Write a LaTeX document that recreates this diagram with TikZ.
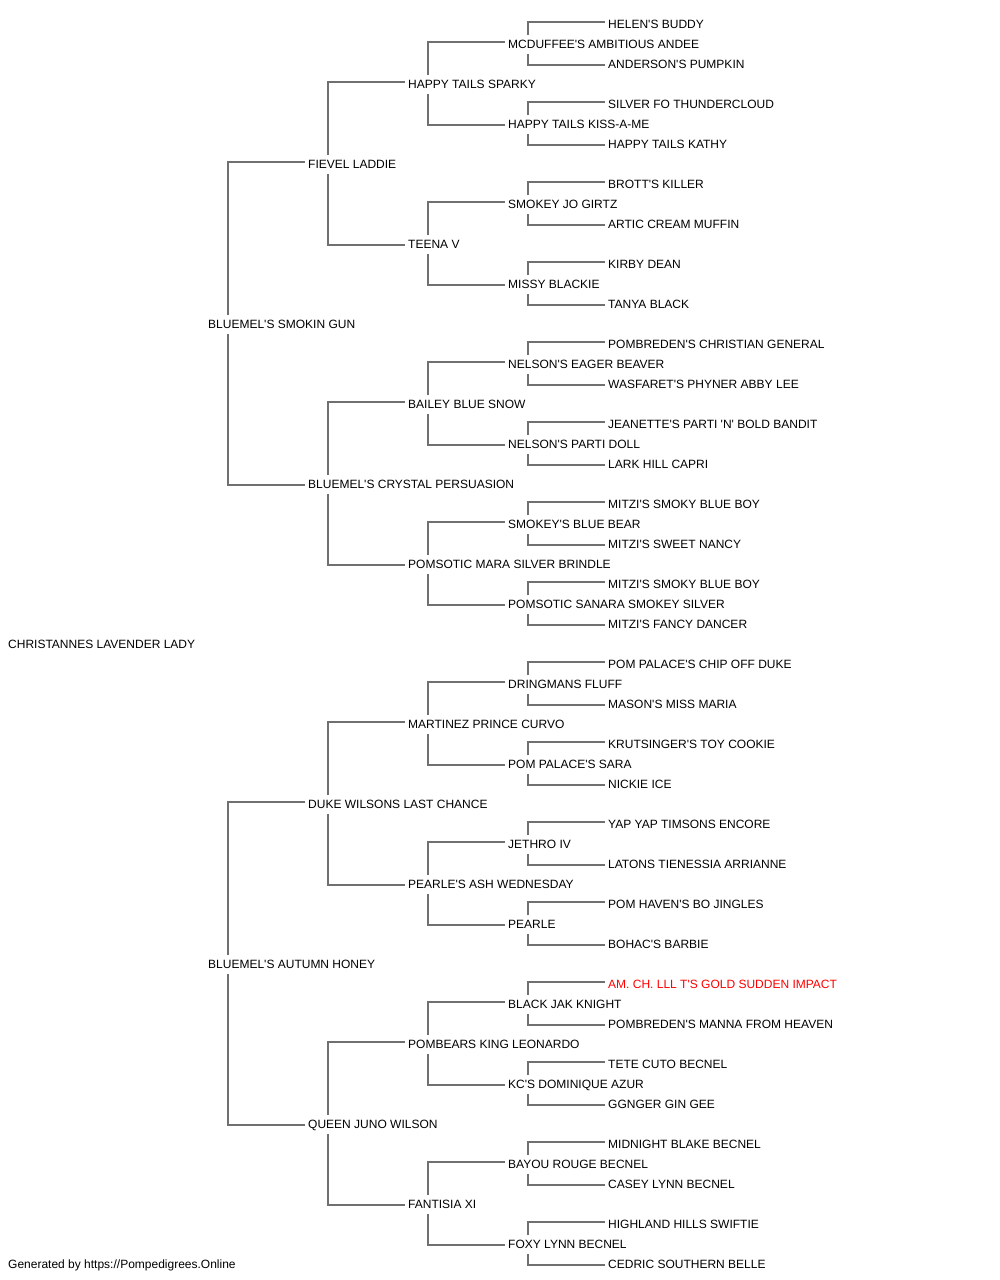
\documentclass[tikz,border=0pt]{standalone}
\usepackage{fontspec}
\setmainfont{Liberation Sans}[Ligatures=TeXOff]
\usetikzlibrary{calc}
\definecolor{lc}{RGB}{112,112,112}
\definecolor{hl}{RGB}{255,0,0}
\tikzset{
  nm/.style={anchor=west, inner sep=0pt, text height=8.6pt, text depth=0pt, font=\fontsize{12}{14}\selectfont, text=black},
  conn/.style={draw=lc, line width=1.8pt}
}
\begin{document}
\begin{tikzpicture}[x=1pt,y=-1pt]
\useasboundingbox[fill=white] (0,0) rectangle (1000,1280);
% gen 0
\node[nm] (n) at (8,644) {CHRISTANNES LAVENDER LADY};
% gen 1
\node[nm] (n1) at (208,324) {BLUEMEL'S SMOKIN GUN};
\node[nm] (n2) at (208,964) {BLUEMEL'S AUTUMN HONEY};
% gen 2
\node[nm] (n11) at (308,164) {FIEVEL LADDIE};
\node[nm] (n12) at (308,484) {BLUEMEL'S CRYSTAL PERSUASION};
\node[nm] (n21) at (308,804) {DUKE WILSONS LAST CHANCE};
\node[nm] (n22) at (308,1124) {QUEEN JUNO WILSON};
% gen 3
\node[nm] (n111) at (408,84) {HAPPY TAILS SPARKY};
\node[nm] (n112) at (408,244) {TEENA V};
\node[nm] (n121) at (408,404) {BAILEY BLUE SNOW};
\node[nm] (n122) at (408,564) {POMSOTIC MARA SILVER BRINDLE};
\node[nm] (n211) at (408,724) {MARTINEZ PRINCE CURVO};
\node[nm] (n212) at (408,884) {PEARLE'S ASH WEDNESDAY};
\node[nm] (n221) at (408,1044) {POMBEARS KING LEONARDO};
\node[nm] (n222) at (408,1204) {FANTISIA XI};
% gen 4
\node[nm] (n1111) at (508,44) {MCDUFFEE'S AMBITIOUS ANDEE};
\node[nm] (n1112) at (508,124) {HAPPY TAILS KISS-A-ME};
\node[nm] (n1121) at (508,204) {SMOKEY JO GIRTZ};
\node[nm] (n1122) at (508,284) {MISSY BLACKIE};
\node[nm] (n1211) at (508,364) {NELSON'S EAGER BEAVER};
\node[nm] (n1212) at (508,444) {NELSON'S PARTI DOLL};
\node[nm] (n1221) at (508,524) {SMOKEY'S BLUE BEAR};
\node[nm] (n1222) at (508,604) {POMSOTIC SANARA SMOKEY SILVER};
\node[nm] (n2111) at (508,684) {DRINGMANS FLUFF};
\node[nm] (n2112) at (508,764) {POM PALACE'S SARA};
\node[nm] (n2121) at (508,844) {JETHRO IV};
\node[nm] (n2122) at (508,924) {PEARLE};
\node[nm] (n2211) at (508,1004) {BLACK JAK KNIGHT};
\node[nm] (n2212) at (508,1084) {KC'S DOMINIQUE AZUR};
\node[nm] (n2221) at (508,1164) {BAYOU ROUGE BECNEL};
\node[nm] (n2222) at (508,1244) {FOXY LYNN BECNEL};
% gen 5
\node[nm] (n11111) at (608,24) {HELEN'S BUDDY};
\node[nm] (n11112) at (608,64) {ANDERSON'S PUMPKIN};
\node[nm] (n11121) at (608,104) {SILVER FO THUNDERCLOUD};
\node[nm] (n11122) at (608,144) {HAPPY TAILS KATHY};
\node[nm] (n11211) at (608,184) {BROTT'S KILLER};
\node[nm] (n11212) at (608,224) {ARTIC CREAM MUFFIN};
\node[nm] (n11221) at (608,264) {KIRBY DEAN};
\node[nm] (n11222) at (608,304) {TANYA BLACK};
\node[nm] (n12111) at (608,344) {POMBREDEN'S CHRISTIAN GENERAL};
\node[nm] (n12112) at (608,384) {WASFARET'S PHYNER ABBY LEE};
\node[nm] (n12121) at (608,424) {JEANETTE'S PARTI 'N' BOLD BANDIT};
\node[nm] (n12122) at (608,464) {LARK HILL CAPRI};
\node[nm] (n12211) at (608,504) {MITZI'S SMOKY BLUE BOY};
\node[nm] (n12212) at (608,544) {MITZI'S SWEET NANCY};
\node[nm] (n12221) at (608,584) {MITZI'S SMOKY BLUE BOY};
\node[nm] (n12222) at (608,624) {MITZI'S FANCY DANCER};
\node[nm] (n21111) at (608,664) {POM PALACE'S CHIP OFF DUKE};
\node[nm] (n21112) at (608,704) {MASON'S MISS MARIA};
\node[nm] (n21121) at (608,744) {KRUTSINGER'S TOY COOKIE};
\node[nm] (n21122) at (608,784) {NICKIE ICE};
\node[nm] (n21211) at (608,824) {YAP YAP TIMSONS ENCORE};
\node[nm] (n21212) at (608,864) {LATONS TIENESSIA ARRIANNE};
\node[nm] (n21221) at (608,904) {POM HAVEN'S BO JINGLES};
\node[nm] (n21222) at (608,944) {BOHAC'S BARBIE};
\node[nm, text=hl] (n22111) at (608,984) {AM. CH. LLL T'S GOLD SUDDEN IMPACT};
\node[nm] (n22112) at (608,1024) {POMBREDEN'S MANNA FROM HEAVEN};
\node[nm] (n22121) at (608,1064) {TETE CUTO BECNEL};
\node[nm] (n22122) at (608,1104) {GGNGER GIN GEE};
\node[nm] (n22211) at (608,1144) {MIDNIGHT BLAKE BECNEL};
\node[nm] (n22212) at (608,1184) {CASEY LYNN BECNEL};
\node[nm] (n22221) at (608,1224) {HIGHLAND HILLS SWIFTIE};
\node[nm] (n22222) at (608,1264) {CEDRIC SOUTHERN BELLE};
% footer
\node[nm] (foot) at (8,1264) {Generated by https://Pompedigrees.Online};
% connectors
\foreach \p in {1,2,11,12,21,22,111,112,121,122,211,212,221,222,1111,1112,1121,1122,1211,1212,1221,1222,2111,2112,2121,2122,2211,2212,2221,2222}{
  \draw[conn] ($(n\p.west)+(20,-9)$) |- ($(n\p1.west)+(-3,-2)$);
  \draw[conn] ($(n\p.west)+(20,10)$) |- ($(n\p2.west)+(-3,1)$);
}
\end{tikzpicture}
\end{document}
